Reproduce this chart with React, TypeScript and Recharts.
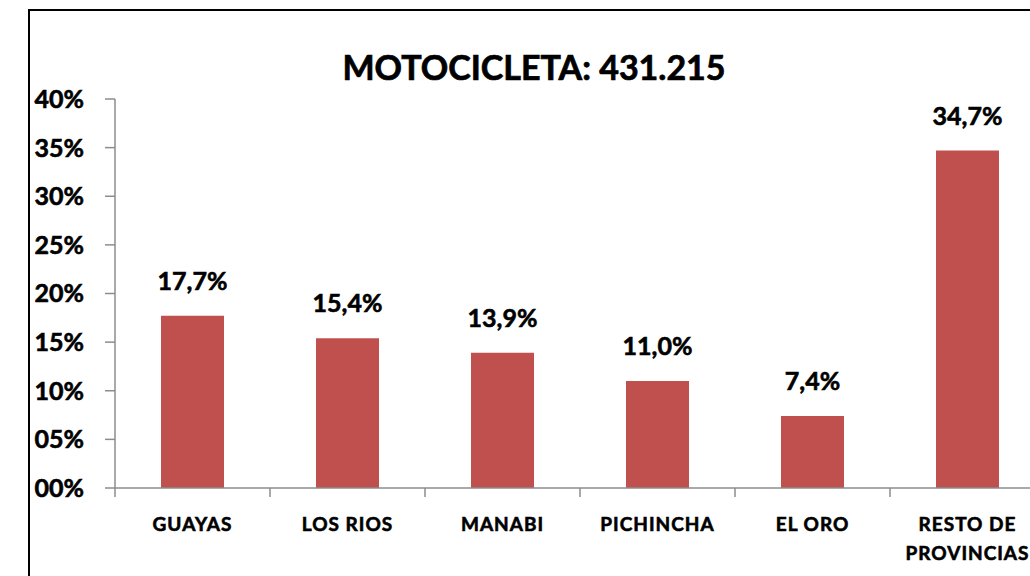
import { BarChart, Bar, XAxis, YAxis, LabelList } from "recharts";

// Share of motorcycles by province (percent)
const provinces = ["GUAYAS", "LOS RIOS", "MANABI", "PICHINCHA", "EL ORO", "RESTO DE\nPROVINCIAS"];
const shares = [17.7, 15.4, 13.9, 11.0, 7.4, 34.7];
const yTicks = [0, 5, 10, 15, 20, 25, 30, 35, 40];

const chartData = provinces.map((name, i) => ({ name, value: shares[i] }));

const BAR_COLOR = "#C0504D";
const AXIS_COLOR = "#8C8C8C";
const FONT = "Lato, 'Open Sans', sans-serif";
const BAND = 155; // category width in px, used to put tick marks on the band edges

// a thin outline makes Lato bold look closer to the heavy original text
const heavyText = { fill: "#000", stroke: "#000", strokeWidth: 0.6, fontFamily: FONT, fontWeight: 700 };

function CategoryTick(props: any) {
  const { x, y, payload } = props;
  const lines = String(payload.value).split("\n");
  return (
    <g>
      <line x1={x - BAND / 2} x2={x - BAND / 2} y1={y - 9} y2={y} stroke={AXIS_COLOR} strokeWidth={1.5} />
      <text x={x} y={y + 34} textAnchor="middle" fontSize={19} letterSpacing={1} style={heavyText}>
        {lines.map((line, i) => (
          <tspan key={i} x={x} dy={i === 0 ? 0 : 29}>
            {line}
          </tspan>
        ))}
      </text>
    </g>
  );
}

export default function App() {
  return (
    <div style={{ position: "relative", width: 1030, height: 576, overflow: "hidden", background: "#fff" }}>
      <style>{`body{margin:0}`}</style>
      <div
        style={{
          position: "absolute",
          left: 28,
          top: 9,
          width: 1100,
          height: 700,
          border: "2px solid #000",
        }}
      />
      <div
        style={{
          position: "absolute",
          left: 0,
          top: 50,
          width: 1068,
          textAlign: "center",
          fontFamily: FONT,
          fontWeight: 700,
          fontSize: 34,
          lineHeight: "34px",
          color: "#000",
          WebkitTextStroke: "0.7px #000",
        }}
      >
        MOTOCICLETA: 431.215
      </div>
      <div style={{ position: "absolute", left: 0, top: 0 }}>
        <BarChart width={1060} height={576} data={chartData} margin={{ top: 99, right: 15, left: 0, bottom: 0 }}>
          <XAxis
            dataKey="name"
            height={88}
            interval={0}
            tickSize={9}
            tickMargin={0}
            tickLine={false}
            axisLine={{ stroke: AXIS_COLOR, strokeWidth: 1.5 }}
            tick={<CategoryTick />}
          />
          <YAxis
            width={115}
            domain={[0, 40]}
            ticks={yTicks}
            interval={0}
            tickSize={10}
            tickMargin={21}
            axisLine={{ stroke: AXIS_COLOR, strokeWidth: 1.5 }}
            tickLine={{ stroke: AXIS_COLOR, strokeWidth: 1.5 }}
            tickFormatter={(v: number) => `${String(v).padStart(2, "0")}%`}
            tick={{ ...heavyText, fontSize: 25 }}
          />
          <Bar dataKey="value" fill={BAR_COLOR} barSize={63} isAnimationActive={false}>
            <LabelList
              dataKey="value"
              position="top"
              offset={26}
              formatter={(v: number) => `${v.toFixed(1).replace(".", ",")}%`}
              style={{ ...heavyText, fontSize: 25 }}
            />
          </Bar>
        </BarChart>
      </div>
    </div>
  );
}
